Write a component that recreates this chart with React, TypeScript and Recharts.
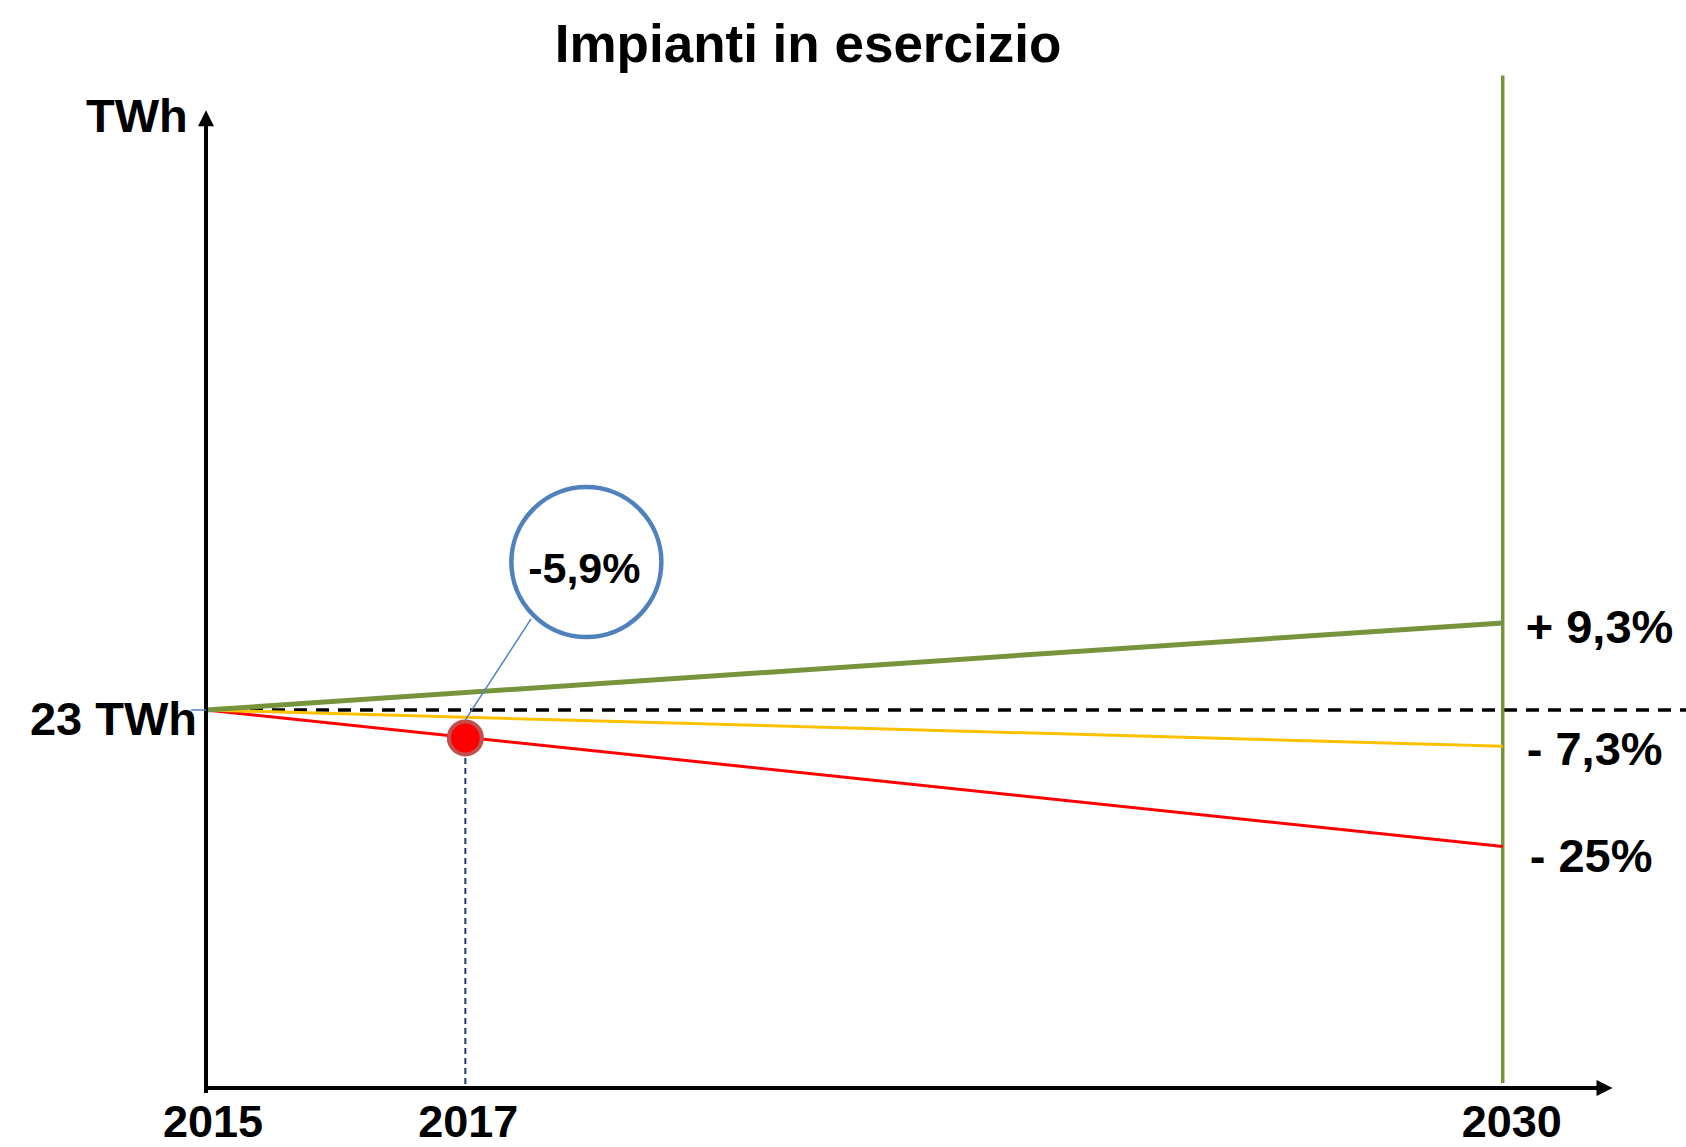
import React from 'react';
import { LineChart, Line, XAxis, YAxis, ReferenceLine, ReferenceDot } from 'recharts';

// years on the time axis (schematic spacing)
const YEAR_LABELS = ['2015', '2017', '2030'];
const YEAR_POS = [0, 3, 15];

// TWh: start value and scenario end values in 2030
const START_TWH = 23;
const SCENARIO_KEYS = ['alto', 'medio', 'basso'];
const END_TWH = [28.3, 20.8, 14.7];
const END_LABELS = ['+ 9,3%', '- 7,3%', '- 25%'];
const COLORS = ['#77933C', '#FFC000', '#FF0000'];
const WIDTHS = [5, 3, 3];

// measured point in 2017 and its callout
const ACTUAL_2017 = 21.3;
const ACTUAL_LABEL = '-5,9%';
const CALLOUT_POS = { x: 4.4, y: 32 };

const X_MAX = 17.12;
const Y_MAX = 62.55;
const FONT = '"Liberation Sans", Arial, sans-serif';

const chartData = [
  { t: YEAR_POS[0], alto: START_TWH, medio: START_TWH, basso: START_TWH },
  { t: YEAR_POS[2], alto: END_TWH[0], medio: END_TWH[1], basso: END_TWH[2] },
];

const TICK_DX = [7, 3, 9];
const TICK_DY = [49, 49, 49];

const XTick = (props: any) => {
  const { x, y, payload, index } = props;
  const i = YEAR_POS.indexOf(payload.value);
  return (
    <text x={x + TICK_DX[i]} y={y + TICK_DY[i]} textAnchor="middle" fontFamily={FONT} fontWeight="bold" fontSize={45} fill="#000">
      {YEAR_LABELS[i] ?? index}
    </text>
  );
};

const YTick = (props: any) => {
  const { x, y } = props;
  return (
    <g>
      <line x1={x - 15} y1={y} x2={x} y2={y} stroke="#4F81BD" strokeWidth={1.5} />
      <text x={x - 9} y={y + 25} textAnchor="end" fontFamily={FONT} fontWeight="bold" fontSize={47} fill="#000">
        {`${START_TWH} TWh`}
      </text>
    </g>
  );
};

const arrow = (dir: 'up' | 'right') => (p: any) => {
  const { x1, y1, x2, y2 } = p;
  const head = dir === 'up'
    ? `${x2},${y2} ${x2 - 8},${y2 + 16} ${x2 + 8},${y2 + 16}`
    : `${x2},${y2} ${x2 - 16},${y2 - 8} ${x2 - 16},${y2 + 8}`;
  return (
    <g>
      <line x1={x1} y1={y1} x2={dir === 'up' ? x2 : x2 - 10} y2={dir === 'up' ? y2 + 10 : y2} stroke="#000" strokeWidth={4} />
      <polygon points={head} fill="#000" />
    </g>
  );
};

const endLabel = (i: number) => (p: any) => {
  const { cx, cy } = p;
  const dx = [23, 24, 27][i];
  const dy = [20, 19, 26][i];
  return (
    <text x={cx + dx} y={cy + dy} fontFamily={FONT} fontWeight="bold" fontSize={47} fill="#000">
      {END_LABELS[i]}
    </text>
  );
};

const callout = (p: any) => {
  const { cx, cy } = p;
  return (
    <g>
      <circle cx={cx} cy={cy} r={75} fill="#fff" stroke="#4F81BD" strokeWidth={4.5} />
      <text x={cx - 2} y={cy + 21} textAnchor="middle" fontFamily={FONT} fontWeight="bold" fontSize={43} fill="#000">
        {ACTUAL_LABEL}
      </text>
    </g>
  );
};

export default function App() {
  return (
    <div style={{ position: 'absolute', left: 0, top: 0, width: 1686, height: 1147, background: '#fff' }}>
      <div style={{ position: 'absolute', left: 808, top: 17, transform: 'translateX(-50%)', fontFamily: FONT, fontWeight: 'bold', fontSize: 53, lineHeight: '53px', whiteSpace: 'nowrap' }}>
        Impianti in esercizio
      </div>
      <div style={{ position: 'absolute', left: 86, top: 92, fontFamily: FONT, fontWeight: 'bold', fontSize: 47, lineHeight: '47px' }}>
        TWh
      </div>
      <LineChart width={1686} height={1147} data={chartData} margin={{ top: 60, right: 0, bottom: 0, left: 0 }}>
        <XAxis dataKey="t" type="number" domain={[0, X_MAX]} ticks={YEAR_POS} height={59}
          axisLine={false} tickLine={false} tickSize={0} tickMargin={0} tick={<XTick />} interval={0} allowDataOverflow />
        <YAxis type="number" domain={[0, Y_MAX]} ticks={[START_TWH]} width={206}
          axisLine={false} tickLine={false} tickSize={0} tickMargin={0} tick={<YTick />} allowDataOverflow />

        {/* baseline 23 TWh */}
        <ReferenceLine y={START_TWH} stroke="#000" strokeWidth={3.5} strokeDasharray="13 9" />
        {/* 2030 target line */}
        <ReferenceLine segment={[{ x: YEAR_POS[2], y: 0.3 }, { x: YEAR_POS[2], y: 61.6 }]} stroke="#77933C" strokeWidth={3.5} ifOverflow="visible" />
        {/* 2017 drop line */}
        <ReferenceLine segment={[{ x: YEAR_POS[1], y: ACTUAL_2017 }, { x: YEAR_POS[1], y: 0 }]} stroke="#1F3A6E" strokeWidth={2} strokeDasharray="6 4" ifOverflow="visible" />

        {[2, 1, 0].map(i => (
          <Line key={SCENARIO_KEYS[i]} dataKey={SCENARIO_KEYS[i]} type="linear" stroke={COLORS[i]} strokeWidth={WIDTHS[i]}
            dot={false} activeDot={false} isAnimationActive={false} />
        ))}

        {/* axes with arrows */}
        <ReferenceLine segment={[{ x: 0, y: -0.3 }, { x: 0, y: 59.5 }]} shape={arrow('up')} ifOverflow="visible" />
        <ReferenceLine segment={[{ x: 0, y: 0 }, { x: 16.27, y: 0 }]} shape={arrow('right')} ifOverflow="visible" />

        {[0, 1, 2].map(i => (
          <ReferenceDot key={`lbl-${i}`} x={YEAR_POS[2]} y={END_TWH[i]} r={0} shape={endLabel(i)} ifOverflow="visible" />
        ))}

        <ReferenceLine segment={[{ x: 3.76, y: 28.54 }, { x: YEAR_POS[1], y: 22.4 }]} stroke="#4F81BD" strokeWidth={1.5} ifOverflow="visible" />
        <ReferenceDot x={YEAR_POS[1]} y={ACTUAL_2017} r={16.5} fill="#FF0000" stroke="#C0504D" strokeWidth={4} ifOverflow="visible" />
        <ReferenceDot x={CALLOUT_POS.x} y={CALLOUT_POS.y} r={75} shape={callout} ifOverflow="visible" />
      </LineChart>
    </div>
  );
}
